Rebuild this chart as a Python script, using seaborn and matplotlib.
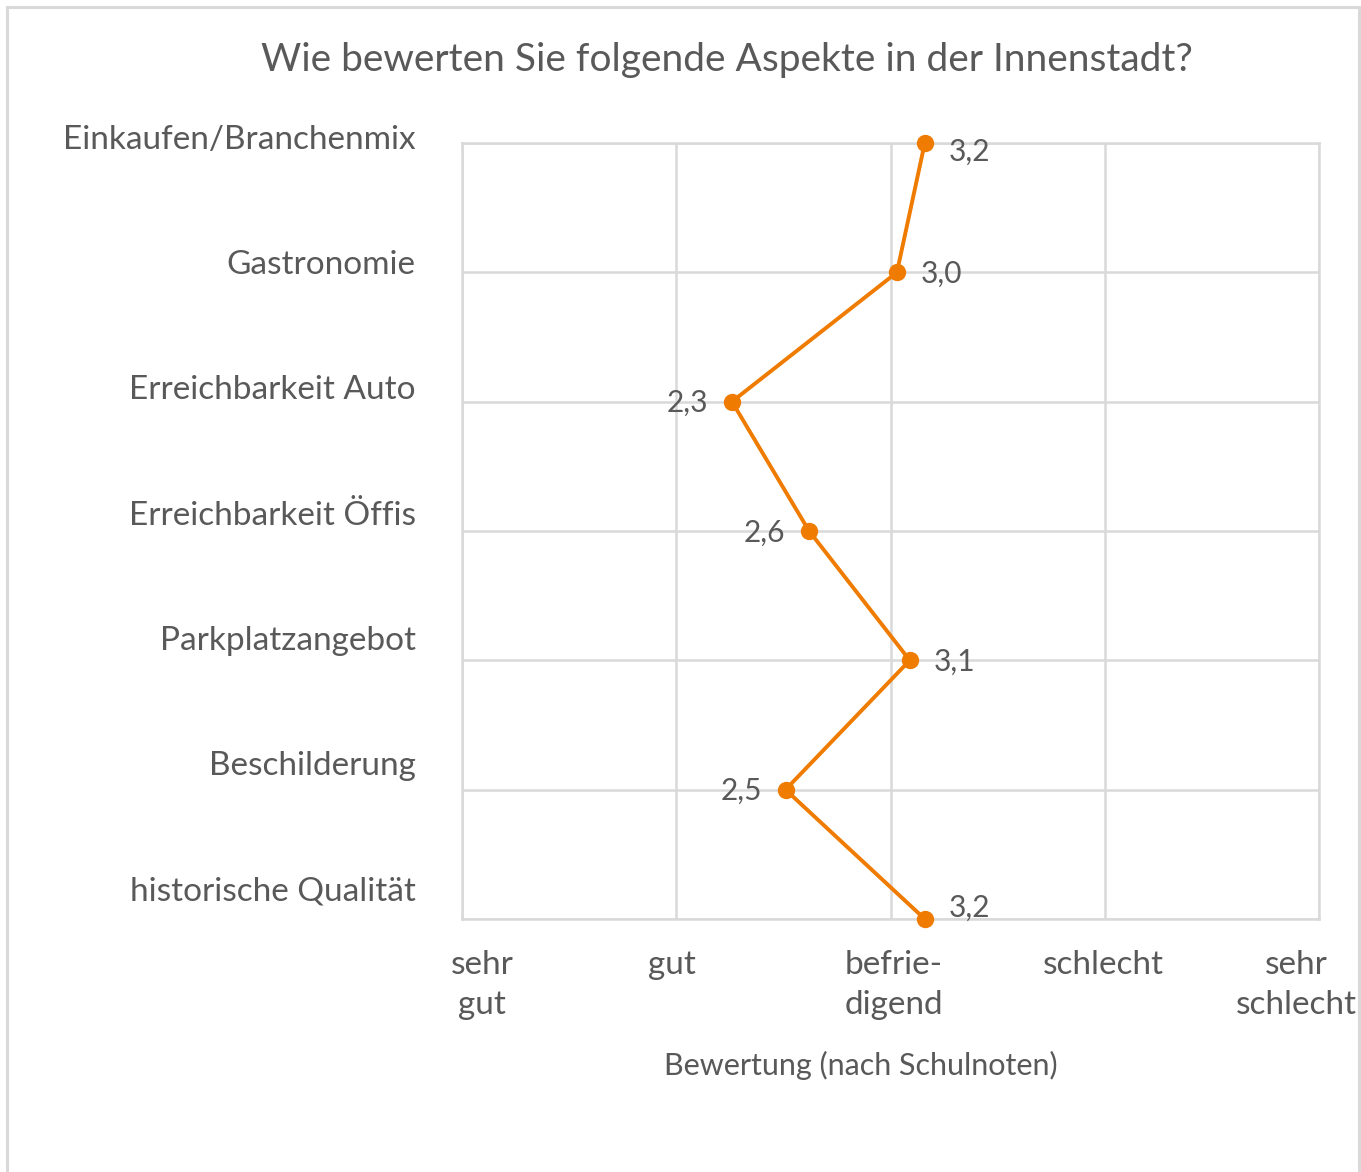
import matplotlib
matplotlib.use("agg")
import matplotlib.pyplot as plt
import matplotlib.transforms as mtransforms
from matplotlib.patches import Rectangle
import seaborn as sns
import pandas as pd

# data (school grades, 1 = sehr gut ... 5 = sehr schlecht)
aspects = [
    "Einkaufen/Branchenmix",
    "Gastronomie",
    "Erreichbarkeit Auto",
    "Erreichbarkeit Öffis",
    "Parkplatzangebot",
    "Beschilderung",
    "historische Qualität",
]
grades = [3.16, 3.03, 2.26, 2.62, 3.09, 2.51, 3.16]
grade_ticks = [1, 2, 3, 4, 5]
grade_labels = ["sehr\ngut", "gut", "befrie-\ndigend", "schlecht", "sehr\nschlecht"]

# which side each value label sits on
label_side = ["right", "right", "left", "left", "right", "left", "right"]

ORANGE = "#EF7B00"
GRID = "#D9D9D9"
TEXT = "#595959"

sns.set_theme(style="white")
plt.rcParams["font.family"] = ["Lato", "DejaVu Sans"]

df = pd.DataFrame({"aspect": aspects, "grade": grades, "pos": range(len(aspects))})

fig = plt.figure(figsize=(13.61, 11.72), dpi=100)
ax = fig.add_axes([462 / 1361, 1 - 919 / 1172, 857 / 1361, 776 / 1172])

sns.lineplot(data=df, x="grade", y="pos", sort=False, estimator=None, color=ORANGE,
             lw=2.8, marker="o", markersize=12.5, markeredgewidth=0, ax=ax, clip_on=False,
             zorder=5)

ax.set_xlim(1, 5)
ax.set_ylim(len(aspects) - 1, 0)
ax.set_xticks(grade_ticks)
ax.set_yticks(range(len(aspects)))
ax.set_yticklabels([])
ax.grid(True, color=GRID, lw=1.8)
for s in ax.spines.values():
    s.set_color(GRID)
    s.set_linewidth(1.8)
ax.tick_params(length=0)

# x tick labels (grade names)
ax.set_xticklabels(grade_labels, fontsize=24, color=TEXT, linespacing=1.45, va="top")
ax.tick_params(axis="x", pad=22)
shifts = [20, -4, 3, -1, -23]
for lab, dx in zip(ax.get_xticklabels(), shifts):
    lab.set_transform(lab.get_transform() + mtransforms.ScaledTranslation(dx / 100, 0, fig.dpi_scale_trans))

# category labels, slightly tighter spacing than the gridlines
trans = mtransforms.blended_transform_factory(ax.transAxes, ax.transData)
for i, name in enumerate(aspects):
    ax.text(-0.054, -0.023 + i * 0.968, name, transform=trans, ha="right", va="center",
            fontsize=24, color=TEXT)

# value labels
for i, (g, side) in enumerate(zip(grades, label_side)):
    dx = 17 if side == "right" else -17
    dy = -6 if i == 0 else (8 if i == len(grades) - 1 else -1)
    ax.annotate(f"{g:.1f}".replace(".", ","), (g, i), xytext=(dx, dy), textcoords="offset points",
                ha="left" if side == "right" else "right", va="center", fontsize=21.5,
                color=TEXT, zorder=6, annotation_clip=False)

ax.set_xlabel("Bewertung (nach Schulnoten)", fontsize=22, color=TEXT)
ax.xaxis.set_label_coords((861 - 462) / 857, (919 - 1065) / 776)
ax.xaxis.label.set_va("center")
ax.set_ylabel("")

fig.text(727 / 1361, 1 - 60 / 1172, "Wie bewerten Sie folgende Aspekte in der Innenstadt?",
         ha="center", va="center", fontsize=28, color=TEXT)

# chart-area frame
fig.patches.append(Rectangle((7 / 1361, -0.05), 1352 / 1361, 1.05 - 7 / 1172,
                             transform=fig.transFigure, fill=False, ec=GRID, lw=2.2))

fig.savefig("out.png", dpi=100)
